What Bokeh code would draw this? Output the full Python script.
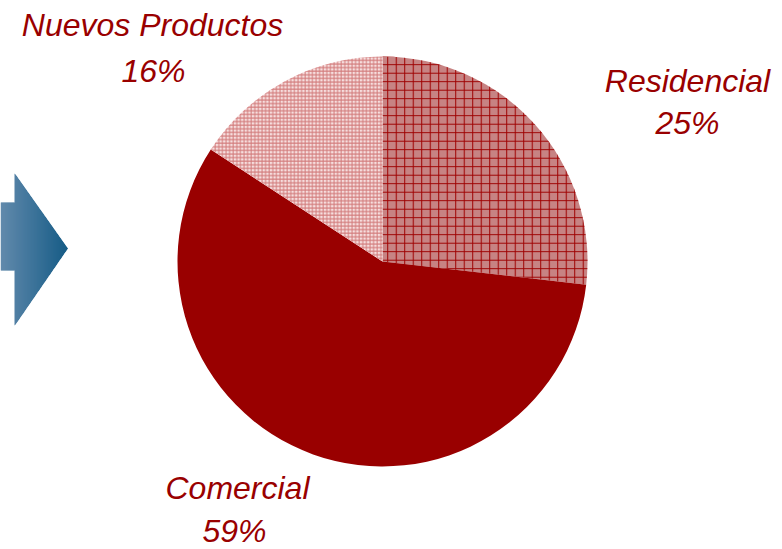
import math
from bokeh.plotting import figure
from bokeh.models import Range1d, ColumnDataSource
from bokeh.core.properties import value
from bokeh.embed import file_html
from bokeh.resources import INLINE

# ---- data ----
categories = ["Residencial", "Comercial", "Nuevos Productos"]
shares = [26.8, 57.4, 15.8]          # slice sizes as drawn
pct_labels = ["25%", "59%", "16%"]   # printed percentages

# ---- layout / styles ----
W, H = 782, 549
CX, CY, R = 382, H - 261, 205
fills = ["#c78383", "#990000", "#f6dede"]
hatches = ["+", " ", "+"]
hatch_colors = ["#9e0000", "#990000", "#d27a7a"]
hatch_scales = [8.5, 8.5, 3.6]
DY = 10  # baseline correction
name_pos = [(687, H - 90 + DY), (237, H - 497 + DY), (152, H - 34 + DY)]
pct_pos = [(687, H - 132 + DY), (234, H - 540 + DY), (153, H - 80 + DY)]

p = figure(width=W, height=H, x_range=Range1d(0, W), y_range=Range1d(0, H),
           output_backend="svg", toolbar_location=None, min_border=0)
p.axis.visible = False
p.grid.visible = False
p.outline_line_color = None
p.background_fill_color = "white"
p.border_fill_color = "white"

# ---- arrow with horizontal gradient (strips) ----
c0 = (98, 138, 172)
c1 = (22, 92, 134)
shaft_top, shaft_bot = 202, 270
head_x0, head_top, head_bot = 14, 173, 325
tip_x, tip_y = 67, 248

def extent(x):
    if x < head_x0:
        return shaft_top, shaft_bot
    t = (x - head_x0) / (tip_x - head_x0)
    return head_top + t * (tip_y - head_top), head_bot + t * (tip_y - head_bot)

def colour(f):
    col = tuple(int(round(c0[k] + (c1[k] - c0[k]) * f)) for k in range(3))
    return "#%02x%02x%02x" % col

xs_list, ys_list, cols = [], [], []
# shaft strips
ns = 14
for i in range(ns):
    xa = i * head_x0 / ns
    xb = (i + 1) * head_x0 / ns
    xs_list.append([xa, xb + 0.6, xb + 0.6, xa])
    ys_list.append([H - shaft_top, H - shaft_top, H - shaft_bot, H - shaft_bot])
    cols.append(colour((xa + xb) / 2 / tip_x))
# head strips
m = 53
for i in range(m):
    xa = head_x0 + i * (tip_x - head_x0) / m
    xb = head_x0 + (i + 1) * (tip_x - head_x0) / m
    ta, ba = extent(xa)
    tb, bb = extent(xb)
    xs_list.append([xa, xb + 0.6, xb + 0.6, xa])
    ys_list.append([H - ta, H - tb, H - bb, H - ba])
    cols.append(colour((xa + xb) / 2 / tip_x))
p.patches(xs_list, ys_list, fill_color=cols, line_color=None)

# ---- pie ----
total = sum(shares)
starts, ends = [], []
a = math.pi / 2
for s in shares:
    starts.append(a)
    a -= s / total * 2 * math.pi
    ends.append(a)

for i in range(len(categories)):
    p.wedge(x=CX, y=CY, radius=R, start_angle=starts[i], end_angle=ends[i],
            direction="clock", fill_color=fills[i], line_color=None,
            hatch_pattern=hatches[i], hatch_color=hatch_colors[i],
            hatch_scale=hatch_scales[i], hatch_weight=1)

# ---- labels ----
src = ColumnDataSource(dict(
    x=[q[0] for q in name_pos] + [q[0] for q in pct_pos],
    y=[q[1] for q in name_pos] + [q[1] for q in pct_pos],
    t=categories + pct_labels,
))
p.text(x="x", y="y", text="t", source=src, text_align="center",
       text_baseline="alphabetic", text_font=value("Liberation Sans"),
       text_font_style="italic", text_font_size="32px", text_color="#990000")

open("out.html", "w").write(file_html(p, INLINE))
